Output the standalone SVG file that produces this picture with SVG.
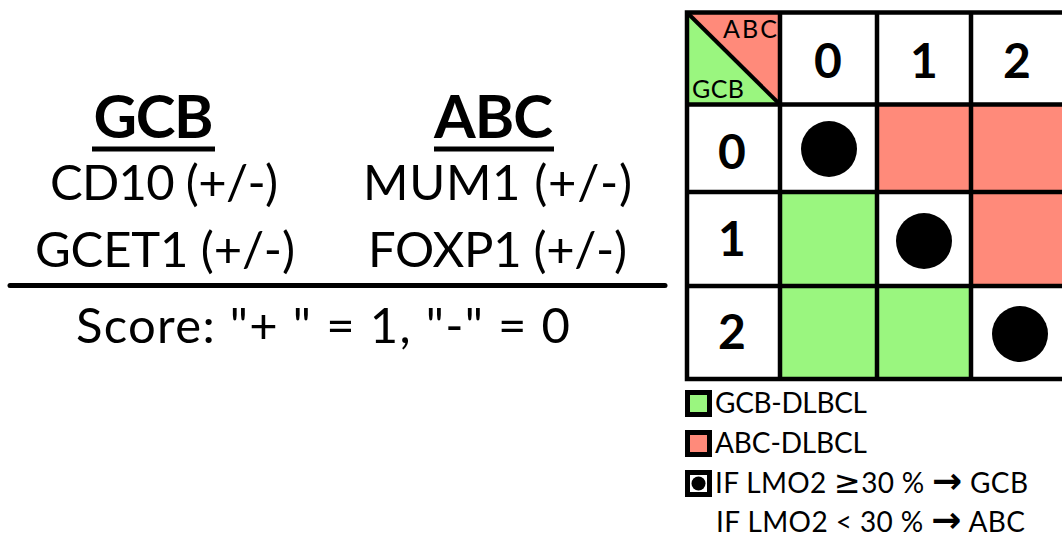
<svg xmlns="http://www.w3.org/2000/svg" width="1062" height="538" viewBox="0 0 1062 538">
<style>
.t{font-family:Lato,"Open Sans","Liberation Sans",sans-serif;fill:#000}
.b{font-weight:700}
.big{font-size:60px}
.mid{font-size:49px}
.num{font-size:48px;text-anchor:middle}
.leg{font-size:28px}
.ar{font-weight:700;font-family:"DejaVu Sans",sans-serif;font-size:36px}
.ge{font-family:"DejaVu Sans",sans-serif;font-size:32px}
.abc{fill:#FF8A7A}
.gcb{fill:#9AF67F}
.ln{stroke:#000;stroke-width:4.5;stroke-linecap:square;fill:none}
.dot{fill:#000}
.sq{stroke:#000;stroke-width:5}
</style>
<rect width="1062" height="538" fill="#fff"/>
<g id="markers-left">
  <g id="gcb-column">
    <text class="t b big" x="153.5" y="138" text-anchor="middle" textLength="120">GCB</text>
    <line x1="92" y1="149" x2="215" y2="149" stroke="#000" stroke-width="5"/>
    <text class="t mid" x="164" y="200" text-anchor="middle" textLength="228">CD10 (+/-)</text>
    <text class="t mid" x="165" y="267" text-anchor="middle" textLength="260">GCET1 (+/-)</text>
  </g>
  <g id="abc-column">
    <text class="t b big" x="493.5" y="138" text-anchor="middle" textLength="119">ABC</text>
    <line x1="434" y1="149" x2="554" y2="149" stroke="#000" stroke-width="5"/>
    <text class="t mid" x="497.5" y="200" text-anchor="middle" textLength="269">MUM1 (+/-)</text>
    <text class="t mid" x="497.5" y="267" text-anchor="middle" textLength="259">FOXP1 (+/-)</text>
  </g>
  <g id="score">
    <line x1="10" y1="285.5" x2="665" y2="285.5" stroke="#000" stroke-width="5" stroke-linecap="round"/>
    <text class="t mid" x="76" y="343" textLength="494">Score: "+ " = 1, "-" = 0</text>
  </g>
</g>
<g id="grid">
  <g id="corner">
    <polygon class="abc" points="687,12.5 780,12.5 780,104.5"/>
    <polygon class="gcb" points="687,12.5 687,104.5 780,104.5"/>
    <line x1="687" y1="12.5" x2="780" y2="104.5" stroke="#000" stroke-width="4"/>
    <text class="t" x="777" y="38" font-size="25" text-anchor="end" textLength="54">ABC</text>
    <text class="t" x="692" y="98" font-size="25" textLength="52">GCB</text>
  </g>
  <g id="cells">
    <rect class="abc" x="877" y="104.5" width="94" height="87.5"/>
    <rect class="abc" x="971" y="104.5" width="95" height="87.5"/>
    <rect class="abc" x="971" y="192" width="95" height="94"/>
    <rect class="gcb" x="780" y="192" width="97" height="94"/>
    <rect class="gcb" x="780" y="286" width="97" height="93"/>
    <rect class="gcb" x="877" y="286" width="94" height="93"/>
    <circle class="dot" cx="829" cy="149" r="28"/>
    <circle class="dot" cx="924" cy="241" r="28"/>
    <circle class="dot" cx="1020" cy="334" r="28"/>
  </g>
  <g id="grid-lines">
    <path class="ln" d="M687,12.5V379M780,12.5V379M877,12.5V379M971,12.5V379M687,12.5H1066M687,104.5H1066M687,192H1066M687,286H1066M687,379H1066"/>
  </g>
  <g id="headers">
    <text class="t b num" x="828" y="78">0</text>
    <text class="t b num" x="924" y="78">1</text>
    <text class="t b num" x="1017" y="78">2</text>
    <text class="t b num" x="732" y="169">0</text>
    <text class="t b num" x="732" y="256">1</text>
    <text class="t b num" x="732" y="349">2</text>
  </g>
</g>
<g id="legend">
  <g id="legend-gcb">
    <rect class="gcb sq" x="687.5" y="392.5" width="22" height="22"/>
    <text class="t leg" x="715" y="413" textLength="152">GCB-DLBCL</text>
  </g>
  <g id="legend-abc">
    <rect class="abc sq" x="687.5" y="432.5" width="22" height="22"/>
    <text class="t leg" x="715" y="453" textLength="152">ABC-DLBCL</text>
  </g>
  <g id="legend-lmo2">
    <rect class="sq" fill="#fff" x="687.5" y="472.5" width="22" height="22"/>
    <circle class="dot" cx="698.5" cy="483.5" r="7"/>
    <text class="t leg" x="715" y="493" textLength="313">IF LMO2 <tspan class="ge">≥</tspan>30 % <tspan class="ar">→</tspan> GCB</text>
    <text class="t leg" x="716" y="532" textLength="309">IF LMO2 &lt; 30 % <tspan class="ar">→</tspan> ABC</text>
  </g>
</g>
</svg>
